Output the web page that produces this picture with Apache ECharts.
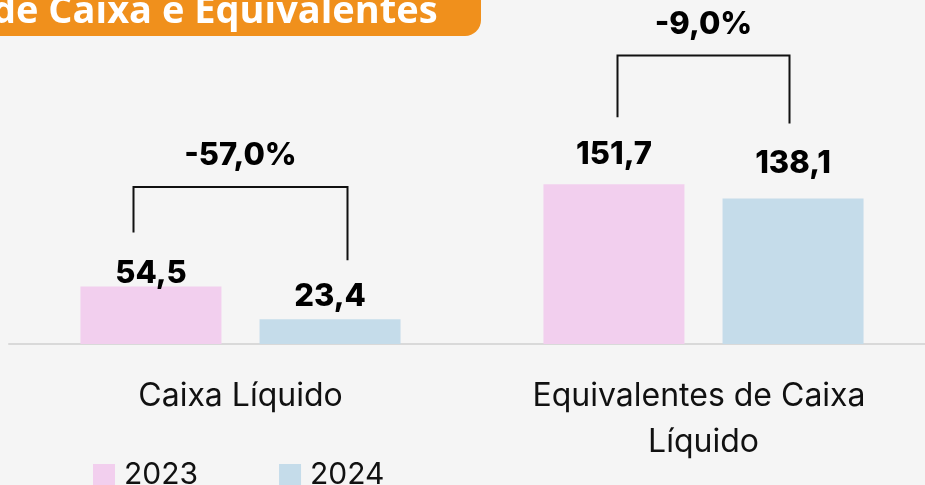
<!DOCTYPE html>
<html>
<head>
<meta charset="utf-8">
<script src="https://cdn.jsdelivr.net/npm/echarts@6/dist/echarts.min.js"></script>
<style>
  html, body { margin: 0; padding: 0; background: #f5f5f5; }
  #chart { width: 925px; height: 485px; }
</style>
</head>
<body>
<div id="chart"></div>
<script>
const categories = ['Caixa Líquido', 'Equivalentes de Caixa Líquido']
const seriesNames = ['2023', '2024']
const values2023 = [54.5, 151.7]
const values2024 = [23.4, 138.1]
const changes = ['-57,0%', '-9,0%']

// layout only
const labelLift2023 = [-3, 14]
const labelLift2024 = [7, 19]
const bracketTop = [149, 274]
const bracketHalf = [107, 86]
const bracketGap = [[54, 59], [67, 75]]

const colors = ['#f2cfee', '#c5dcea']
const font = 'Inter, "Open Sans", sans-serif'

const chart = echarts.init(document.getElementById('chart'))

const fmt = v => v.toFixed(1).replace('.', ',')

const valueLabel = (lifts) => (v, i) => ({
  value: v,
  label: { distance: lifts[i] }
})

const renderBracket = (params, api) => {
  const i = params.dataIndex
  const center = api.coord([i, 0])
  const top = api.coord([i, bracketTop[i]])[1]
  const yl = api.coord([i, values2023[i]])[1] - bracketGap[i][0]
  const yr = api.coord([i, values2024[i]])[1] - bracketGap[i][1]
  const xl = center[0] - bracketHalf[i]
  const xr = center[0] + bracketHalf[i]
  return {
    type: 'group',
    children: [
      {
        type: 'polyline',
        shape: { points: [[xl, yl], [xl, top], [xr, top], [xr, yr]] },
        style: { stroke: '#111', lineWidth: 2, fill: null }
      },
      {
        type: 'text',
        x: center[0],
        y: top - 31,
        style: {
          text: changes[i],
          fill: '#000',
          font: '800 31px ' + font,
          align: 'center',
          verticalAlign: 'middle'
        }
      }
    ]
  }
}

const barLabel = {
  show: true,
  position: 'top',
  fontSize: 31,
  fontWeight: 800,
  color: '#000',
  formatter: p => fmt(p.value)
}

chart.setOption({
  backgroundColor: '#f5f5f5',
  animation: false,
  textStyle: { fontFamily: font },
  grid: { left: 9, top: 28, width: 926, height: 316, outerBoundsMode: 'none', containLabel: false },
  legend: {
    data: seriesNames,
    left: 88,
    top: 455,
    itemWidth: 22,
    itemHeight: 22,
    itemGap: 81,
    icon: 'rect',
    textStyle: { fontSize: 30, color: '#111', width: 100, padding: [0, 0, 0, 4] }
  },
  xAxis: {
    type: 'category',
    data: categories,
    axisLine: { lineStyle: { color: '#d9d9d9', width: 2 } },
    axisTick: { show: false },
    axisLabel: {
      interval: 0,
      color: '#111',
      fontSize: 32,
      lineHeight: 46,
      margin: 29,
      width: 400,
      overflow: 'break'
    }
  },
  yAxis: {
    type: 'value',
    min: 0,
    max: 300,
    show: false,
    splitLine: { show: false }
  },
  series: [
    {
      name: seriesNames[0],
      type: 'bar',
      barWidth: 141,
      barGap: '27%',
      itemStyle: { color: colors[0] },
      label: barLabel,
      data: values2023.map(valueLabel(labelLift2023))
    },
    {
      name: seriesNames[1],
      type: 'bar',
      barWidth: 141,
      itemStyle: { color: colors[1] },
      label: barLabel,
      data: values2024.map(valueLabel(labelLift2024))
    },
    {
      type: 'custom',
      renderItem: renderBracket,
      silent: true,
      z: 5,
      data: categories.map((c, i) => [i, bracketTop[i]])
    }
  ],
  graphic: [
    {
      type: 'rect',
      shape: { x: -20, y: -20, width: 501, height: 56, r: 16 },
      style: { fill: '#f0901c' }
    },
    {
      type: 'text',
      x: -8,
      y: 12,
      style: {
        text: 'de Caixa e Equivalentes',
        fill: '#fff',
        font: 'bold 38px "Open Sans", sans-serif',
        verticalAlign: 'middle'
      }
    }
  ]
})

window.addEventListener('resize', () => chart.resize())
</script>
</body>
</html>
